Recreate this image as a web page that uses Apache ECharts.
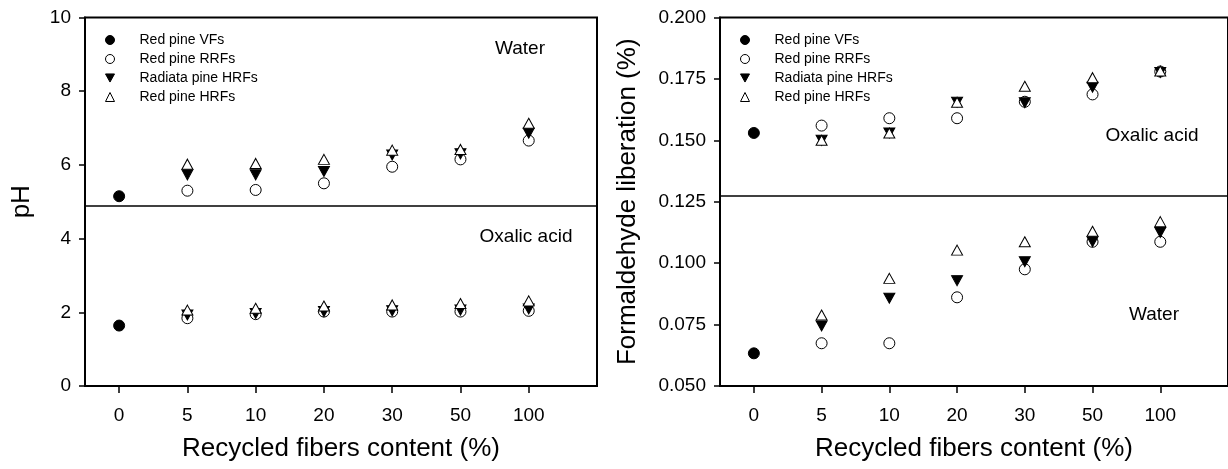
<!DOCTYPE html>
<html>
<head>
<meta charset="utf-8">
<script src="https://cdn.jsdelivr.net/npm/echarts@6/dist/echarts.min.js"></script>
<style>
html,body{margin:0;padding:0;background:#fff;}
#main{width:1228px;height:469px;}
</style>
</head>
<body>
<div id="main"></div>
<script>
// ---- data ----
const categories = ['0', '5', '10', '20', '30', '50', '100'];
const seriesNames = ['Red pine VFs', 'Red pine RRFs', 'Radiata pine HRFs', 'Red pine HRFs'];

// pH panel
const phWaterVF      = [5.15, null, null, null, null, null, null];
const phWaterRRF     = [null, 5.30, 5.32, 5.50, 5.95, 6.15, 6.66];
const phWaterRadiata = [null, 5.73, 5.73, 5.82, 6.27, 6.30, 6.86];
const phWaterRedHRF  = [null, 6.02, 6.04, 6.15, 6.40, 6.42, 7.13];
const phOxalicVF      = [1.64, null, null, null, null, null, null];
const phOxalicRRF     = [null, 1.84, 1.95, 2.02, 2.02, 2.02, 2.04];
const phOxalicRadiata = [null, 1.93, 1.97, 2.02, 2.04, 2.06, 2.09];
const phOxalicRedHRF  = [null, 2.06, 2.11, 2.17, 2.20, 2.24, 2.31];
const phSeparator = 4.9;
const phTicks = [0, 10, 2];

// Formaldehyde panel
const faOxalicVF      = [0.153, null, null, null, null, null, null];
const faOxalicRRF     = [null, 0.156, 0.159, 0.159, 0.1657, 0.1687, 0.178];
const faOxalicRadiata = [null, 0.150, 0.153, 0.1655, 0.1653, 0.1716, 0.1776];
const faOxalicRedHRF  = [null, 0.150, 0.153, 0.1655, 0.172, 0.1755, 0.1782];
const faWaterVF      = [0.0633, null, null, null, null, null, null];
const faWaterRRF     = [null, 0.0674, 0.0674, 0.0861, 0.0975, 0.1087, 0.1087];
const faWaterRadiata = [null, 0.0744, 0.0857, 0.0929, 0.1006, 0.1087, 0.1125];
const faWaterRedHRF  = [null, 0.0789, 0.0938, 0.1053, 0.1087, 0.1130, 0.1169];
const faSeparator = 0.1274;
const faTicks = [0.05, 0.2, 0.025];

// ---- styling ----
const FONT = "'Liberation Sans', Arial, sans-serif";
const downTri = 'path://M0,0L10,0L5,9Z';
const markerStyles = [
  { symbol: 'circle', symbolSize: 11, itemStyle: { color: '#000', borderColor: '#000', borderWidth: 1, opacity: 1 } },
  { symbol: 'circle', symbolSize: 11, itemStyle: { color: '#fff', borderColor: '#000', borderWidth: 1, opacity: 1 } },
  { symbol: downTri, symbolSize: [11, 10], itemStyle: { color: '#000', borderColor: '#000', borderWidth: 1, opacity: 1 } },
  { symbol: 'triangle', symbolSize: [11, 10], itemStyle: { color: '#fff', borderColor: '#000', borderWidth: 1, opacity: 1 } }
];

function pts(arr) {
  const out = [];
  arr.forEach((v, i) => { if (v != null) out.push([i, v]); });
  return out;
}

const series = [];
function addGroup(gridIdx, arrays) {
  arrays.forEach((arr, k) => {
    const m = markerStyles[k];
    series.push({
      type: 'scatter',
      name: seriesNames[k],
      xAxisIndex: gridIdx,
      yAxisIndex: gridIdx,
      symbol: m.symbol,
      symbolSize: m.symbolSize,
      itemStyle: m.itemStyle,
      emphasis: { disabled: true },
      data: pts(arr),
      z: 3 + k
    });
  });
}
addGroup(0, [phWaterVF, phWaterRRF, phWaterRadiata, phWaterRedHRF]);
addGroup(0, [phOxalicVF, phOxalicRRF, phOxalicRadiata, phOxalicRedHRF]);
addGroup(1, [faOxalicVF, faOxalicRRF, faOxalicRadiata, faOxalicRedHRF]);
addGroup(1, [faWaterVF, faWaterRRF, faWaterRadiata, faWaterRedHRF]);

function sepSeries(gridIdx, val) {
  return {
    type: 'scatter', xAxisIndex: gridIdx, yAxisIndex: gridIdx, data: [], silent: true,
    markLine: {
      silent: true, precision: 6, symbol: ['none', 'none'], label: { show: false },
      lineStyle: { color: '#000', width: 1.5, type: 'solid' },
      emphasis: { disabled: true },
      data: [{ yAxis: val }]
    }
  };
}
series.push(sepSeries(0, phSeparator));
series.push(sepSeries(1, faSeparator));

const catIdx = categories.map((c, i) => i);
function xAxis(gridIdx) {
  return {
    type: 'value', gridIndex: gridIdx, min: -0.5, max: 7,
    name: 'Recycled fibers content (%)', nameLocation: 'middle', nameGap: 50,
    nameTextStyle: { fontFamily: FONT, fontSize: 26, color: '#000' },
    splitLine: { show: false },
    axisLine: { onZero: false, lineStyle: { color: '#000', width: 2 } },
    axisTick: { show: true, inside: false, length: 7, lineStyle: { color: '#000', width: 1.5 }, customValues: catIdx },
    axisLabel: { customValues: catIdx, margin: 20, fontFamily: FONT, fontSize: 19, color: '#000',
      formatter: v => categories[Math.round(v)] },
  };
}
function yAxis(gridIdx, name, ticks, digits, gap) {
  return {
    type: 'value', gridIndex: gridIdx, min: ticks[0], max: ticks[1], interval: ticks[2],
    name: name, nameLocation: 'middle', nameGap: gap,
    nameTextStyle: { fontFamily: FONT, fontSize: 26, color: '#000' },
    splitLine: { show: false },
    axisLine: { show: true, onZero: false, lineStyle: { color: '#000', width: 2 } },
    axisTick: { show: true, inside: false, length: 6, lineStyle: { color: '#000', width: 1.5 } },
    axisLabel: { margin: 14, fontFamily: FONT, fontSize: 19, color: '#000',
      formatter: v => v.toFixed(digits) }
  };
}

function legend(left) {
  return {
    data: seriesNames, orient: 'vertical', left: left, top: 28,
    itemWidth: 9, itemHeight: 9, itemGap: 5, selectedMode: false,
    itemStyle: { borderWidth: 1 },
    textStyle: { fontFamily: FONT, fontSize: 14, color: '#000', padding: [0, 0, 0, 20], lineHeight: 14 }
  };
}

function label(x, y, text) {
  return { type: 'text', x: x, y: y, style: { text: text, font: "19px 'Liberation Sans', Arial, sans-serif",
    fill: '#000', align: 'center', verticalAlign: 'middle' } };
}

const option = {
  animation: false,
  backgroundColor: '#fff',
  grid: [
    { left: 85, right: 631, top: 17.5, bottom: 83, show: true, borderColor: '#000', borderWidth: 2, backgroundColor: 'transparent' },
    { left: 720, right: -4, top: 17.5, bottom: 83, show: true, borderColor: '#000', borderWidth: 2, backgroundColor: 'transparent' }
  ],
  xAxis: [xAxis(0), xAxis(1)],
  yAxis: [yAxis(0, 'pH', phTicks, 0, 50), yAxis(1, 'Formaldehyde liberation (%)', faTicks, 3, 79)],
  legend: [legend(100), legend(735)],
  graphic: [
    label(520, 49, 'Water'),
    label(526, 237, 'Oxalic acid'),
    label(1152, 136, 'Oxalic acid'),
    label(1154, 315, 'Water')
  ],
  series: series
};

const chart = echarts.init(document.getElementById('main'), null, { renderer: 'canvas' });
chart.setOption(option);
</script>
</body>
</html>
